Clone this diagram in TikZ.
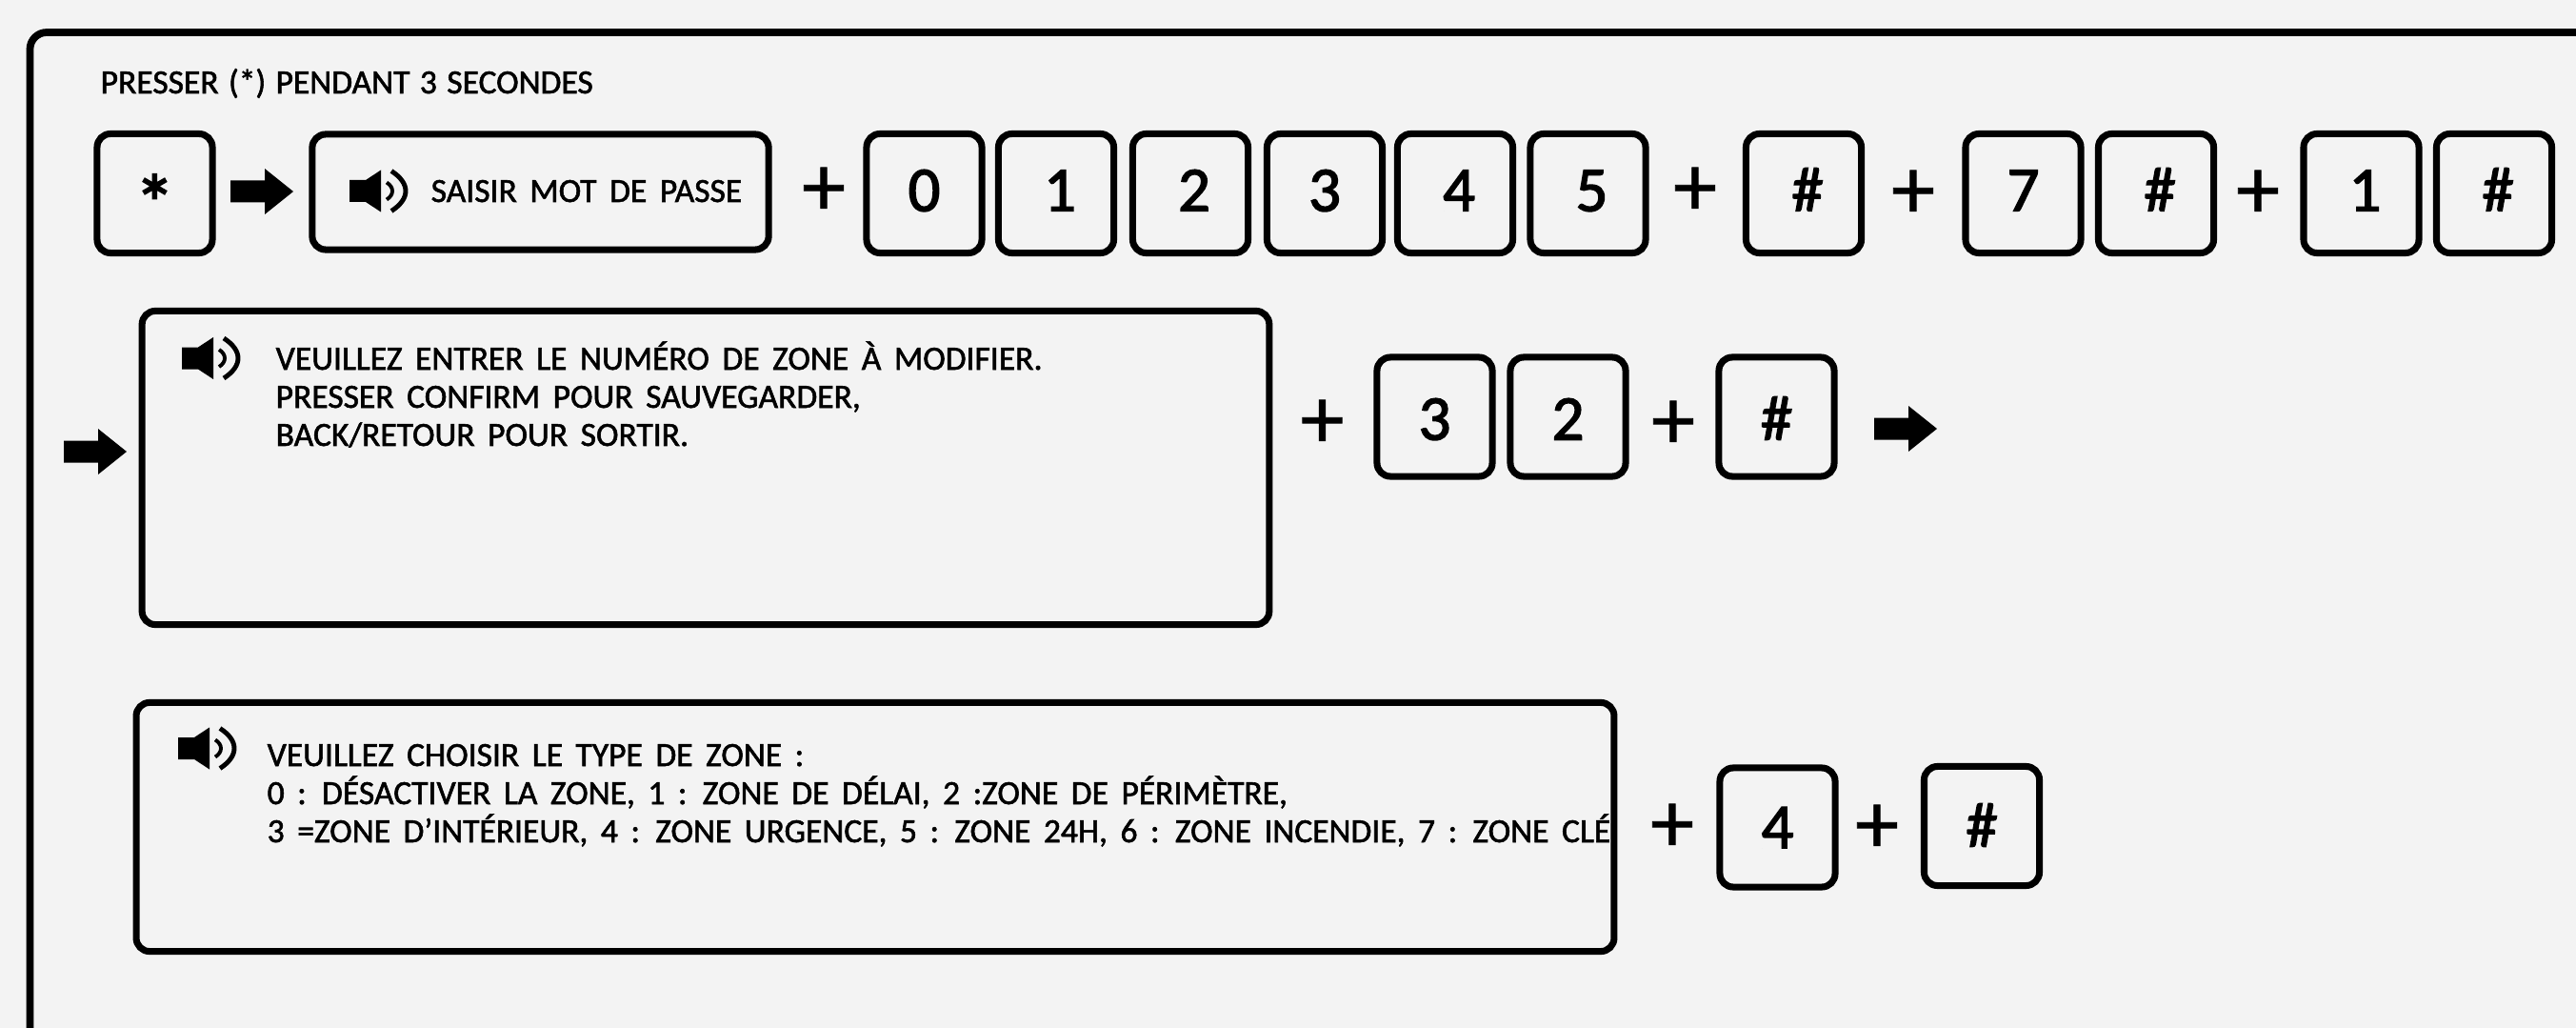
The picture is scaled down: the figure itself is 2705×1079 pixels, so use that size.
\documentclass[tikz,border=0pt]{standalone}
\usepackage{fontspec}
\setmainfont{Carlito}
\newfontfamily\keyfont[FakeBold=2.2]{Carlito}
\newfontfamily\plusfont[FakeBold=0.9]{Carlito}
\newfontfamily\txtfont[FakeBold=1.6,WordSpace=1.02]{Carlito}
\newfontfamily\widefont[FakeBold=1.6,WordSpace=1.3]{Carlito}
\definecolor{paper}{HTML}{F3F3F3}
\tikzset{
  key/.style = {draw, line width=2pt, rounded corners=4pt, inner sep=0pt, minimum width=1.21cm,
    minimum height=1.25cm, text height=.43cm, text depth=.06cm, font=\keyfont\fontsize{19}{19}\selectfont},
  keyr/.style = {key, execute at begin node={\hspace{.08cm}}},
  keymid/.style = {key, text depth=0cm, text height=.48cm},
  keylow/.style = {key, text depth=0cm},
  txtbox/.style = {draw, line width=2pt, rounded corners=4pt, inner sep=0pt},
  plus/.style = {inner sep=0pt, yshift=-.04cm, font=\plusfont\fontsize{26}{26}\selectfont},
  saytxt/.style = {anchor=base west, inner sep=0pt, font=\txtfont\fontsize{10.1}{12}\selectfont},
  saywide/.style = {saytxt, font=\widefont\fontsize{10.1}{12}\selectfont},
  fatarrow/.pic = {
    \fill (0,-11.5) -- (36,-11.5) -- (36,-24) -- (66,0) -- (36,24) -- (36,11.5) -- (0,11.5) -- cycle;
  },
  speaker/.pic = {
    \fill (0,-11.5) -- (17,-11.5) -- (33,-22) -- (33,22) -- (17,11.5) -- (0,11.5) -- cycle;
    \draw[line width=1.1pt] (39,-9) .. controls (47,-4) and (47,4) .. (39,9);
    \draw[line width=1.4pt] (44,-21) .. controls (64,-8) and (64,8) .. (44,21);
  }
}
\begin{document}
\begin{tikzpicture}[x=0.01cm,y=-0.01cm]
  \fill[paper] (0,0) rectangle (2705,1079);
  \useasboundingbox (0,0) rectangle (2705,1079);
  % outer frame runs off the page
  \draw[line width=2.2pt,rounded corners=5pt] (31.5,1079) -- (31.5,34) -- (2705,34);
  \node[saytxt] (title) at (105,98) {PRESSER (*) PENDANT 3 SECONDES};

  % first row
  \node[key] (star) at (162.5,203) {\fontsize{24}{24}\selectfont\raisebox{-6pt}{*}};
  \pic (arrowa) at (242,201) {fatarrow};
  \node[txtbox,minimum width=4.79cm,minimum height=1.21cm] (password) at (567.5,201.5) {};
  \pic (speakera) at (367,200.5) {speaker};
  \node[saywide] (passwordtxt) at (452,212) {SAISIR MOT DE PASSE};
  \node[plus] (plusa) at (865,197) {+};
  \node[key] (zero) at (970.5,203) {0};
  \node[keyr] (onea) at (1109,203) {1};
  \node[keyr] (twoa) at (1250,203) {2};
  \node[key] (threea) at (1391,203) {3};
  \node[keyr] (foura) at (1528,203) {4};
  \node[keyr] (five) at (1667.5,203) {5};
  \node[plus] (plusb) at (1780,197) {+};
  \node[keyr] (hasha) at (1894,203) {\#};
  \node[plus] (plusc) at (2009,200) {+};
  \node[key] (seven) at (2124.5,203) {7};
  \node[keyr] (hashb) at (2264,203) {\#};
  \node[plus] (plusd) at (2371,200) {+};
  \node[keyr] (oneb) at (2479.5,203) {1};
  \node[keyr] (hashc) at (2619,203) {\#};

  % second row
  \pic (arrowb) at (67,474) {fatarrow};
  \node[txtbox,minimum width=11.83cm,minimum height=3.29cm] (zonebox) at (741,491) {};
  \pic (speakerb) at (191,376) {speaker};
  \node[saytxt] (zonea) at (289,388) {VEUILLEZ ENTRER LE NUMÉRO DE ZONE À MODIFIER.};
  \node[saytxt] (zoneb) at (289,428) {PRESSER CONFIRM POUR SAUVEGARDER,};
  \node[saytxt] (zonec) at (289,468) {BACK/RETOUR POUR SORTIR.};
  \node[plus] (pluse) at (1388.5,441) {+};
  \node[keymid] (threeb) at (1506.5,437.5) {3};
  \node[keymid] (twob) at (1646.5,437.5) {2};
  \node[plus] (plusf) at (1757,442) {+};
  \node[keymid] (hashd) at (1865.5,437.5) {\#};
  \pic (arrowc) at (1968,450) {fatarrow};

  % third row
  \node[txtbox,minimum width=15.51cm,minimum height=2.61cm] (typebox) at (919,868) {};
  \pic (speakerc) at (187,785.5) {speaker};
  \node[saywide] (typea) at (280,804) {VEUILLEZ CHOISIR LE TYPE DE ZONE :};
  \node[saytxt] (typeb) at (280,844) {0 : DÉSACTIVER LA ZONE, 1 : ZONE DE DÉLAI, 2 :ZONE DE PÉRIMÈTRE,};
  \node[saytxt] (typec) at (280,884) {3 =ZONE D’INTÉRIEUR, 4 : ZONE URGENCE, 5 : ZONE 24H, 6 : ZONE INCENDIE, 7 : ZONE CLÉ};
  \node[plus] (plusg) at (1756,865) {+};
  \node[keylow] (fourb) at (1866.5,868.5) {4};
  \node[plus] (plush) at (1971,866) {+};
  \node[keylow] (hashe) at (2081,867) {\#};
\end{tikzpicture}
\end{document}
